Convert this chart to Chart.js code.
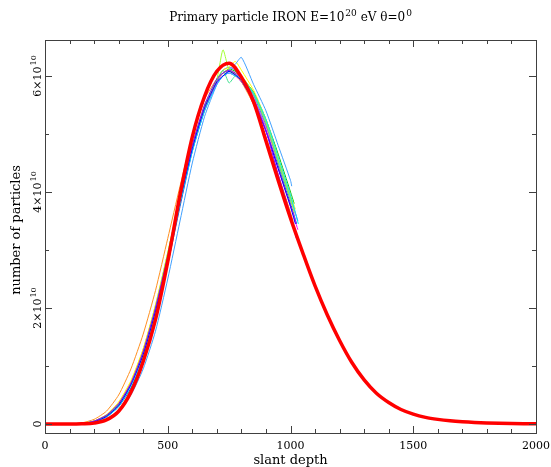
<!DOCTYPE html>
<html>
<head>
<meta charset="utf-8">
<script src="https://cdn.jsdelivr.net/npm/chart.js@4/dist/chart.umd.min.js"></script>
<style>
body { margin: 0; background: #fff; }
canvas { display: block; }
</style>
</head>
<body>
<canvas id="shower" width="551" height="467"></canvas>
<script>
// longitudinal profile, particle numbers in units of 10^10
const redDepth = [0, 50, 100, 150, 200, 250, 300, 350, 400, 450, 500, 550, 600, 650, 700, 750, 800, 850, 900, 950,
    1000, 1050, 1100, 1150, 1200, 1250, 1300, 1350, 1400, 1450, 1500, 1550, 1600, 1650, 1700, 1750, 1800, 1850, 1900, 1950, 2000];
const redCount = [0, 0, 0, 0.003, 0.015, 0.07, 0.22, 0.55, 1.08, 1.8, 2.8, 3.95, 4.95, 5.65, 6.08, 6.22, 5.98, 5.55, 4.88, 4.2,
    3.55, 2.95, 2.38, 1.88, 1.44, 1.06, 0.76, 0.53, 0.37, 0.25, 0.17, 0.115, 0.08, 0.055, 0.038, 0.026, 0.018, 0.012, 0.008, 0.005, 0.003];

// single showers: same depth grid, last value sits at showerEnd
const showerDepth = [0, 50, 100, 150, 200, 250, 300, 350, 400, 450, 500, 550, 600, 650, 700, 725, 750, 775, 800, 850, 900, 950, 1000];
const showerEnd = [1024, 1020, 1005, 1032, 1015, 1010, 1020, 1010, 1030, 1020, 1025, 1015, 1030, 1015];

const shower1 = [0, 0, 0, 0.01, 0.05, 0.15, 0.35, 0.7, 1.25, 2.0, 2.9, 3.9, 4.8, 5.5, 5.95, 6.05, 6.1, 6.05, 5.95, 5.6, 5.05, 4.3, 3.6, 3.2];
const shower2 = [0, 0, 0, 0.01, 0.04, 0.13, 0.32, 0.68, 1.2, 1.95, 2.85, 3.85, 4.75, 5.45, 5.9, 6.0, 6.08, 6.02, 5.92, 5.55, 5.05, 4.4, 3.75, 3.45];
const shower3 = [0, 0, 0, 0.005, 0.02, 0.08, 0.22, 0.5, 0.95, 1.6, 2.5, 3.5, 4.5, 5.3, 5.85, 6.0, 6.1, 6.2, 6.32, 5.85, 5.4, 4.8, 4.2, 4.1];
const shower4 = [0, 0, 0, 0.01, 0.04, 0.12, 0.3, 0.65, 1.15, 1.9, 2.8, 3.8, 4.7, 5.4, 5.85, 6.0, 6.05, 6.0, 5.95, 5.7, 5.25, 4.6, 3.95, 3.45];
const shower5 = [0, 0, 0, 0.01, 0.05, 0.15, 0.35, 0.7, 1.25, 2.0, 2.95, 3.9, 4.8, 5.5, 5.95, 6.45, 6.1, 6.05, 6.0, 5.7, 5.2, 4.55, 3.9, 3.65];
const shower6 = [0, 0, 0, 0.01, 0.045, 0.14, 0.33, 0.68, 1.22, 1.98, 2.9, 3.88, 4.78, 5.48, 5.92, 6.1, 5.88, 6.0, 5.98, 5.68, 5.2, 4.5, 3.85, 3.75];
const shower7 = [0, 0, 0, 0.01, 0.05, 0.16, 0.38, 0.75, 1.3, 2.05, 2.95, 3.9, 4.75, 5.45, 5.95, 6.1, 6.15, 6.25, 6.1, 5.75, 5.25, 4.6, 3.95, 3.7];
const shower8 = [0, 0, 0, 0.02, 0.08, 0.22, 0.5, 0.95, 1.55, 2.3, 3.2, 4.1, 4.95, 5.6, 5.95, 6.05, 6.1, 6.02, 5.9, 5.5, 4.95, 4.3, 3.65, 3.5];
const shower9 = [0, 0, 0, 0.01, 0.05, 0.15, 0.36, 0.72, 1.28, 2.02, 2.92, 3.9, 4.8, 5.45, 5.88, 6.0, 6.05, 6.0, 5.9, 5.55, 5.05, 4.4, 3.75, 3.35];
const shower10 = [0, 0, 0, 0.01, 0.05, 0.15, 0.35, 0.7, 1.25, 2.0, 2.9, 3.85, 4.75, 5.45, 5.9, 6.05, 6.1, 6.05, 5.95, 5.6, 5.1, 4.5, 3.85, 3.6];
const shower11 = [0, 0, 0, 0.01, 0.04, 0.12, 0.3, 0.62, 1.12, 1.85, 2.75, 3.75, 4.7, 5.4, 5.88, 6.0, 6.08, 6.02, 5.9, 5.6, 5.1, 4.45, 3.8, 3.45];
const shower12 = [0, 0, 0, 0.01, 0.045, 0.14, 0.33, 0.68, 1.2, 1.95, 2.88, 3.85, 4.78, 5.45, 5.92, 6.05, 6.12, 6.08, 5.98, 5.72, 5.25, 4.65, 4.0, 3.8];
const shower13 = [0, 0, 0, 0.01, 0.05, 0.15, 0.35, 0.7, 1.22, 1.98, 2.9, 3.88, 4.78, 5.45, 5.9, 6.1, 6.15, 6.1, 5.98, 5.65, 5.15, 4.5, 3.9, 3.5];
const shower14 = [0, 0, 0, 0.01, 0.05, 0.15, 0.35, 0.72, 1.28, 2.05, 2.95, 3.92, 4.8, 5.48, 5.92, 6.05, 6.08, 6.02, 5.95, 5.68, 5.18, 4.55, 3.92, 3.7];

const showers = [shower1, shower2, shower3, shower4, shower5, shower6, shower7,
    shower8, shower9, shower10, shower11, shower12, shower13, shower14];
const showerColors = ['#8000ff', '#0000ff', '#40a0ff', '#00e0ff', '#a0ff30', '#40e090', '#ffff00',
    '#ff9020', '#ff00ff', '#ff80c0', '#2040c0', '#00c000', '#6060ff', '#80ff80'];

const xTicks = [0, 500, 1000, 1500, 2000];
const yTicks = [0, 2, 4, 6];
// [text, superscript]
const yTickLabels = [[['0', '']], [['2×10', '10']], [['4×10', '10']], [['6×10', '10']]];

const titleParts = [['Primary particle IRON E=10', '20'], [' eV θ=0', '0']];
const xTitle = 'slant depth';
const yTitle = 'number of particles';

const datasets = [{
    data: redDepth.map((d, i) => ({x: d, y: redCount[i]})),
    borderColor: '#ff0000',
    borderWidth: 3.5,
    pointRadius: 0,
    tension: 0.4,
    cubicInterpolationMode: 'monotone'
}];

showers.forEach((s, k) => {
    const depths = showerDepth.concat([showerEnd[k]]);
    datasets.push({
        data: depths.map((d, i) => ({x: d, y: s[i]})),
        borderColor: showerColors[k],
        borderWidth: 1,
        pointRadius: 0,
        tension: 0.2
    });
});

// text with raised exponents, centred on x
function drawSup(ctx, parts, x, y, size) {
    const base = size + 'px "DejaVu Serif"';
    const small = Math.round(size * 0.72) + 'px "DejaVu Serif"';
    let w = 0;
    parts.forEach(p => {
        ctx.font = base; w += ctx.measureText(p[0]).width;
        ctx.font = small; w += p[1] ? ctx.measureText(p[1]).width + 1 : 0;
    });
    let cx = x - w / 2;
    ctx.textAlign = 'left';
    parts.forEach(p => {
        ctx.font = base;
        ctx.fillText(p[0], cx, y);
        cx += ctx.measureText(p[0]).width;
        if (p[1]) {
            ctx.font = small;
            ctx.fillText(p[1], cx + 1, y - size * 0.45);
            cx += ctx.measureText(p[1]).width + 1;
        }
    });
    ctx.textAlign = 'center';
}

// frame, inward ticks, labels and titles
const framePlugin = {
    id: 'frame',
    afterDraw(chart) {
        const ctx = chart.ctx;
        const a = chart.chartArea;
        const xs = chart.scales.x;
        const ys = chart.scales.y;
        ctx.save();
        ctx.strokeStyle = '#404040';
        ctx.lineWidth = 1;
        ctx.strokeRect(a.left + 0.5, a.top + 0.5, a.right - a.left, a.bottom - a.top);

        ctx.beginPath();
        for (let v = 0; v <= 2000; v += 100) {
            const px = Math.round(xs.getPixelForValue(v)) + 0.5;
            const len = v % 500 === 0 ? 7 : 4;
            ctx.moveTo(px, a.bottom);
            ctx.lineTo(px, a.bottom - len);
            ctx.moveTo(px, a.top);
            ctx.lineTo(px, a.top + len);
        }
        for (let v = 0; v <= 6; v += 1) {
            const py = Math.round(ys.getPixelForValue(v)) + 0.5;
            const len = v % 2 === 0 ? 7 : 4;
            ctx.moveTo(a.left, py);
            ctx.lineTo(a.left + len, py);
            ctx.moveTo(a.right, py);
            ctx.lineTo(a.right - len, py);
        }
        ctx.stroke();

        ctx.fillStyle = '#000';
        ctx.font = '11px "DejaVu Serif"';
        ctx.textAlign = 'center';
        ctx.textBaseline = 'alphabetic';
        xTicks.forEach(v => {
            ctx.fillText(String(v), xs.getPixelForValue(v), 449);
        });
        yTicks.forEach((v, i) => {
            ctx.save();
            ctx.translate(41, ys.getPixelForValue(v));
            ctx.rotate(-Math.PI / 2);
            drawSup(ctx, yTickLabels[i][0] ? yTickLabels[i] : [], 0, 0, 11);
            ctx.restore();
        });

        ctx.font = '13px "DejaVu Serif"';
        const cx = (a.left + a.right) / 2;
        ctx.fillText(xTitle, cx, 464);
        ctx.save();
        ctx.translate(20, 230);
        ctx.rotate(-Math.PI / 2);
        ctx.fillText(yTitle, 0, 0);
        ctx.restore();

        drawSup(ctx, titleParts, cx, 21, 12);
        ctx.restore();
    }
};

new Chart(document.getElementById('shower'), {
    type: 'line',
    data: { datasets: datasets },
    options: {
        responsive: false,
        animation: false,
        layout: { padding: { left: 45, top: 40, right: 15, bottom: 34 } },
        plugins: { legend: { display: false }, tooltip: { enabled: false } },
        scales: {
            x: { type: 'linear', min: 0, max: 2000, display: false },
            y: { type: 'linear', min: -0.155, max: 6.62, display: false }
        }
    },
    plugins: [framePlugin]
});
</script>
</body>
</html>
